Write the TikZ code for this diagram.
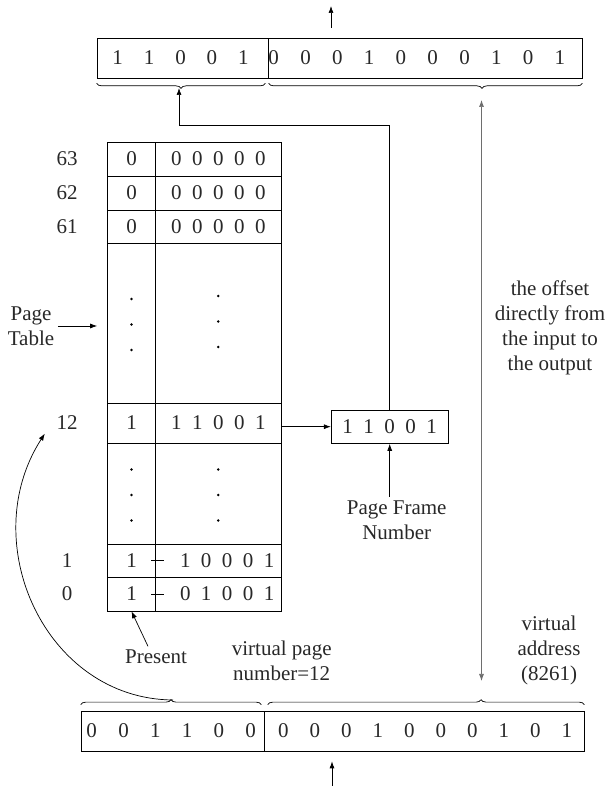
\documentclass[tikz,border=0pt]{standalone}
\usepackage{fontspec}
\setmainfont{Liberation Serif}
\usetikzlibrary{arrows.meta, decorations.pathreplacing, positioning}
\definecolor{addrink}{RGB}{40, 40, 40}
\definecolor{addrgray}{RGB}{110, 110, 110}

\begin{document}
\begin{tikzpicture}[x=1pt, y=1pt, line width=0.7pt,
    every node/.style={font=\fontsize{21}{25}\selectfont, text=addrink},
    reg/.style={draw, minimum height=40, inner sep=0pt},
    cell/.style={draw, inner sep=0pt, minimum height=#1},
    arr/.style={-{Latex[length=7pt, width=5pt]}},
    dbl/.style={{Latex[length=7pt, width=5pt]}-{Latex[length=7pt, width=5pt]}, draw=addrgray},
    brc/.style={decorate, decoration={brace, amplitude=5pt, #1}}]
    \useasboundingbox (0,0) rectangle (613,787);

    % Output (physical) address
    \node[reg, minimum width=171] (opfn) at (182.5,729) {};
    \node[reg, minimum width=314] (ooff) at (425,729) {};
    \foreach \b [count=\i from 0] in {1,1,0,0,1}
        \node (ob\i) at (117.7+31.4*\i, 729) {\b};
    \foreach \b [count=\i from 0] in {0,0,0,1,0,0,0,1,0,1}
        \node (oo\i) at (273.7+31.8*\i, 729) {\b};
    \draw[brc={mirror}] ([yshift=-5]opfn.south west) -- ([xshift=-3,yshift=-5]opfn.south east);
    \draw[brc={mirror, aspect=0.68}] ([xshift=1,yshift=-5]ooff.south west) -- ([yshift=-5]ooff.south east);
    \coordinate (ptip) at (179,699);
    \coordinate (otip) at (481.5,699);
    \coordinate (outend) at (331,781);
    \draw[arr] (outend |- ooff.north) ++(0,10) -- (outend);

    % Input (virtual) address
    \node[reg, minimum width=183] (ivpn) at (172.5,56) {};
    \node[reg, minimum width=320] (ioff) at (424,56) {};
    \foreach \b [count=\i from 0] in {0,0,1,1,0,0}
        \node (ib\i) at (91.7+31.8*\i, 56) {\b};
    \foreach \b [count=\i from 0] in {0,0,0,1,0,0,0,1,0,1}
        \node (io\i) at (283.3+31.5*\i, 56) {\b};
    \draw[brc={}] ([yshift=6]ivpn.north west) -- ([xshift=-3,yshift=6]ivpn.north east);
    \draw[brc={aspect=0.674}] ([xshift=4,yshift=6]ioff.north west) -- ([yshift=6]ioff.north east);
    \coordinate (vtip) at (173,87);
    \coordinate (itip) at (481.5,87);
    \coordinate (instart) at (332,1);
    \draw[arr] (instart) -- ([yshift=-10]instart |- ioff.south);

    % Page table
    \foreach \r/\yc/\h/\pb/\fr in {63/628/34/0/0~~0~~0~~0~~0, 62/594/34/0/0~~0~~0~~0~~0,
        61/560.5/33/0/0~~0~~0~~0~~0, 12/364/40/1/1~~1~~0~~0~~1,
        1/226.5/33/1/\hspace*{18pt}1~~0~~0~~0~~1, 0/193/34/1/\hspace*{18pt}0~~1~~0~~0~~1} {
        \node[cell=\h, minimum width=48] (p\r) at (131.5,\yc) {\pb};
        \node[cell=\h, minimum width=125.5] (f\r) at (218.25,\yc) {\fr};
        \node (l\r) at (67,\yc) {\r};
    }
    \node[cell=160, minimum width=48] (d1p) at (131.5,464) {};
    \node[cell=160, minimum width=125.5] (d1f) at (218.25,464) {};
    \node[cell=101, minimum width=48] (d2p) at (131.5,293.5) {};
    \node[cell=101, minimum width=125.5] (d2f) at (218.25,293.5) {};
    \foreach \dy in {-25.5,0,25.5} {
        \fill (d1p.center) ++(0,\dy-1.5) circle (1.3);
        \fill (d1f.center) ++(0,\dy+1.5) circle (1.3);
        \fill (d2p.center) ++(0,\dy-1.5) circle (1.3);
        \fill (d2f.center) ++(0,\dy-1.5) circle (1.3);
    }
    \foreach \r in {1,0}
        \draw ([xshift=-4]f\r.west) -- ++(13,0);

    % Page frame number
    \node[draw, minimum width=117, minimum height=33.5, inner sep=0pt] (pfn) at (389.7,360.3) {1~~1~~0~~0~~1};
    \draw[arr] (f12.east |- pfn.west) -- (pfn.west);
    \draw[arr] (pfn.north) -- ++(0,284) -| (ptip);

    % Labels
    \node[align=center] (ptab) at (31,461) {Page\\Table};
    \draw[arr, shorten >=10pt] (ptab.east) -- (ptab.east -| d1p.west);
    \node[align=center] (pfnlab) at (396.7,267) {Page Frame\\Number};
    \draw[arr] (pfnlab.north -| pfn.south) -- (pfn.south);
    \node (pres) at (156,130) {Present};
    \draw[arr] ([xshift=-8]pres.north) -- (p0.south);
    \node[align=center] (vpnlab) at (281.7,126) {virtual page\\number=12};
    \node[align=center] (vaddr) at (549,137) {virtual\\address\\(8261)};
    \node[align=center] (offlab) at (550,459) {the offset\\directly from\\the input to\\the output};

    % Connections
    \draw[dbl] ([yshift=19]itip) -- ([yshift=-12]otip);
    \draw[arr] (vtip) .. controls (45,88) and (-25,245) .. ([xshift=-8]l12.south west);
\end{tikzpicture}
\end{document}
